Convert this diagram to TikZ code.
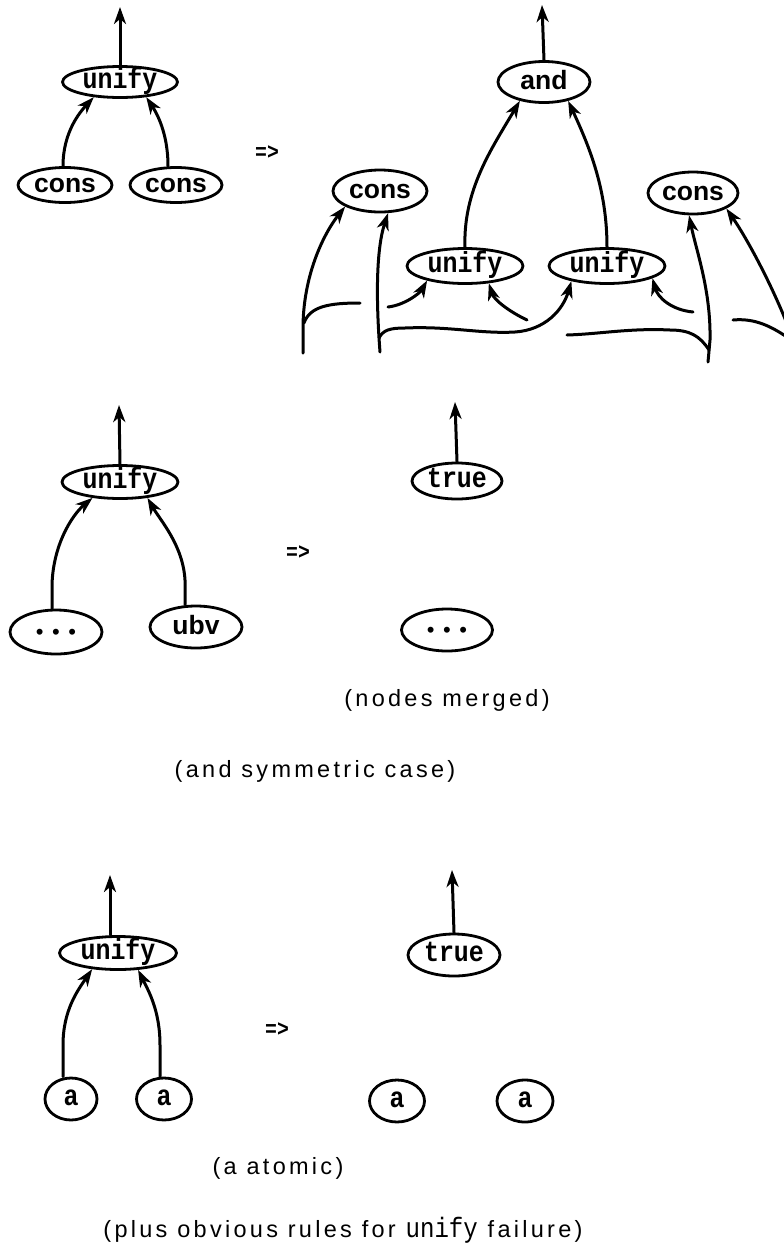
\documentclass[tikz,border=0pt]{standalone}
\usepackage{fontspec}
\setmainfont{Liberation Sans}
\newfontfamily\monof[FakeStretch=0.86]{Liberation Mono}
\newfontfamily\sansf{Liberation Sans}
\newfontfamily\captf[LetterSpace=14]{Liberation Sans}
\usetikzlibrary{shapes.geometric,arrows.meta}
\tikzset{
  nd/.style={ellipse, draw, line width=2.8pt, inner sep=0pt},
  mono/.style={font=\monof\bfseries\fontsize{29}{29}\selectfont, text height=12.5pt, text depth=0pt},
  sans/.style={font=\sansf\bfseries\fontsize{26.5}{26.5}\selectfont, text height=14pt, text depth=0pt},
  dots/.style={font=\sansf\fontsize{22}{22}\selectfont, text height=15.5pt, text depth=0pt},
  arr/.style={line width=3pt, line cap=round, -{Stealth[length=17pt,width=12pt,inset=5pt]}},
  ln/.style={line width=3pt, line cap=round},
  capt/.style={font=\captf\fontsize{23.5}{23.5}\selectfont, inner sep=0pt},
  impl/.style={font=\monof\bfseries\fontsize{23}{23}\selectfont, inner sep=0pt},
}
\newcommand{\threedots}{\textbullet\hspace{8.5pt}\textbullet\hspace{8.5pt}\textbullet}
\begin{document}
\begin{tikzpicture}[x=1pt, y=-1pt]
\useasboundingbox (0,0) rectangle (784,1259);
\clip (0,0) rectangle (784,1259);

% ---------- Rule 1, left side ----------
\node[nd, mono, minimum width=115pt, minimum height=31pt] (u1) at (120,82) {unify};
\node[nd, sans, minimum width=94pt, minimum height=35pt] (c1) at (65,185) {cons};
\node[nd, sans, minimum width=92pt, minimum height=35pt] (c2) at (176,185) {cons};
\coordinate (t1) at (120,7);
\draw[arr] (u1.north) -- (t1);
\draw[arr] ([xshift=-2pt]c1.north) .. controls (63,132) and (80,112) .. (u1.210);
\draw[arr] ([xshift=-8pt]c2.north) .. controls (168,132) and (156,112) .. (u1.-30);
\node[impl] (i1) at (267,153) {=>};

% ---------- Rule 1, right side ----------
\node[nd, sans, minimum width=92pt, minimum height=41pt] (a0) at (544,82) {and};
\coordinate (t2) at (542,5);
\draw[arr] (a0.north) -- (t2);
\node[nd, sans, minimum width=94pt, minimum height=42pt] (c3) at (380,191) {cons};
\node[nd, sans, minimum width=90pt, minimum height=42pt] (c4) at (693,193) {cons};
\node[nd, mono, minimum width=116pt, minimum height=35pt] (u2) at (465,266) {unify};
\node[nd, mono, minimum width=116pt, minimum height=35pt] (u3) at (607,266) {unify};
\draw[arr] (u2.north) .. controls (463,190) and (492,148) .. (a0.218);
\draw[arr] (u3.north) .. controls (607,190) and (590,148) .. (a0.-38);

\coordinate (b1) at (303,353);
\coordinate (b2) at (380,352);
\coordinate (b3) at (708,362);
\coordinate (b4) at (794,342);
\coordinate (j1) at (304,323);
\coordinate (g1) at (360,303);
\coordinate (g2) at (388,307);
\coordinate (j2) at (379,338);
\coordinate (g3) at (527,320);
\coordinate (j4) at (709,350);
\coordinate (g4) at (567,335);
\coordinate (g5) at (733,320);
\coordinate (g6) at (693,312);

\draw[arr] (b1) -- (303,325) .. controls (304,272) and (325,232) .. (c3.204);
\draw[ln] (j1) .. controls (310,306) and (330,303) .. (g1);
\draw[arr] (g2) .. controls (405,305) and (420,293) .. (u2.201);
\draw[arr] (b2) .. controls (376,300) and (376,250) .. (c3.-70);
\draw[arr] (j2) .. controls (383,330) and (390,328) .. (405,328)
  .. controls (450,326) and (480,334) .. (515,332)
  .. controls (545,330) and (563,310) .. (u3.203);
\draw[arr] (g3) .. controls (510,312) and (494,300) .. (u2.-36);
\draw[ln] (j4) .. controls (700,336) and (690,330) .. (670,330)
  .. controls (630,328) and (600,334) .. (g4);
\draw[arr] (b3) -- (710,340) .. controls (711,290) and (696,250) .. (c4.-100);
\draw[arr] (b4) .. controls (776,292) and (748,240) .. (c4.-25);
\draw[ln] (g5) .. controls (755,318) and (772,326) .. (b4);
\draw[arr] (g6) .. controls (672,310) and (658,298) .. (u3.-15);

% ---------- Rule 2 ----------
\node[nd, mono, minimum width=116pt, minimum height=33pt] (u4) at (120,482) {unify};
\coordinate (t3) at (119,405);
\draw[arr] (u4.north) -- (t3);
\node[nd, dots, minimum width=92pt, minimum height=44pt] (d1) at (56,632) {\threedots};
\node[nd, sans, minimum width=92pt, minimum height=42pt] (ubv) at (196,627) {ubv};
\draw[arr] ([xshift=-4pt]d1.north) -- (52,585) .. controls (53,545) and (72,515) .. (u4.210);
\draw[arr] ([xshift=-11pt]ubv.north) -- (185,580) .. controls (183,545) and (160,520) .. (u4.-30);
\node[impl] (i2) at (298,553) {=>};
\node[nd, mono, minimum width=90pt, minimum height=36pt] (tr1) at (457,481) {true};
\coordinate (t4) at (455,402);
\draw[arr] (tr1.north) -- (t4);
\node[nd, dots, minimum width=91pt, minimum height=42pt] (d2) at (447,630) {\threedots};
\node[capt] (n1) at (447,700) {(nodes merged)};
\node[capt] (n2) at (315,771) {(and symmetric case)};

% ---------- Rule 3 ----------
\node[nd, mono, minimum width=117pt, minimum height=33pt] (u5) at (118,953) {unify};
\coordinate (t5) at (110,875);
\draw[arr] ([xshift=-8pt]u5.north) -- (t5);
\node[nd, mono, minimum width=52pt, minimum height=42pt] (a1) at (71,1099) {a};
\node[nd, mono, minimum width=55pt, minimum height=42pt] (a2) at (164,1099) {a};
\draw[arr] ([xshift=-8pt]a1.north) -- (63,1045) .. controls (63,1010) and (78,990) .. (u5.212);
\draw[arr] ([xshift=-4pt]a2.north) -- (160,1045) .. controls (160,1010) and (148,990) .. (u5.-40);
\node[impl] (i3) at (277,1030) {=>};
\node[nd, mono, minimum width=92pt, minimum height=42pt] (tr2) at (454,955) {true};
\coordinate (t6) at (452,870);
\draw[arr] (tr2.north) -- (t6);
\node[nd, mono, minimum width=55pt, minimum height=42pt] (a3) at (397,1101) {a};
\node[nd, mono, minimum width=56pt, minimum height=42pt] (a4) at (525,1101) {a};
\node[capt] (n3) at (278,1168) {(a atomic)};
\node[capt] (n4) at (343,1230) {(plus obvious rules for {\monof\fontsize{28}{28}\selectfont unify} failure)};
\end{tikzpicture}
\end{document}
